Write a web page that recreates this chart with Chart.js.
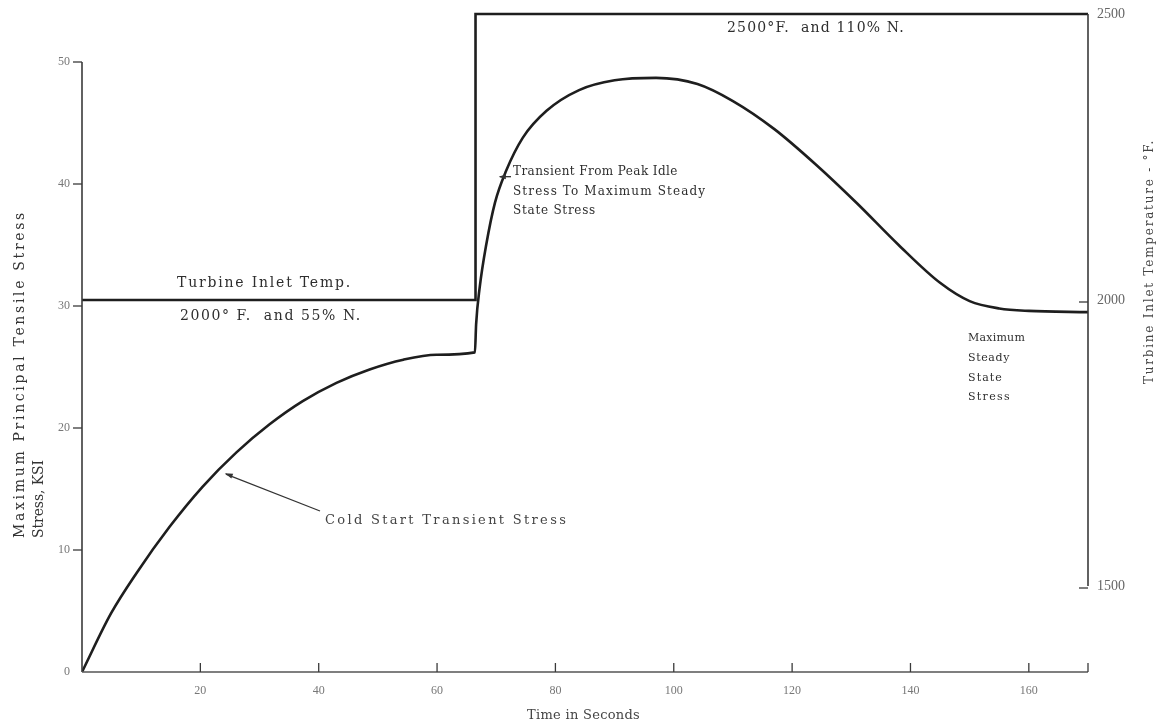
<!DOCTYPE html>
<html><head><meta charset="utf-8">
<script src="https://cdn.jsdelivr.net/npm/chart.js@4/dist/chart.umd.min.js"></script>
<style>html,body{margin:0;padding:0;background:#fff}#wrap{width:1170px;height:726px}</style>
</head><body><div id="wrap"><canvas id="c" width="1170" height="726"></canvas></div>
<script>
// ---- data ----
const stressTime = [0, 4.9, 9.2, 14.8, 20.4, 26.1, 31.7, 37.3, 43.0, 48.6, 54.3, 59.9, 66.4, 66.6, 67.2, 68.3, 69.8, 71.6, 74.5, 78.5, 84, 90, 97, 104, 110, 117, 124, 131, 138, 145, 150, 155, 160, 170];
const stressKsi  = [0, 4.8, 8.1, 11.9, 15.2, 18.0, 20.3, 22.2, 23.7, 24.8, 25.6, 26.0, 26.2, 28.5, 31.5, 35.0, 38.5, 41.0, 43.8, 46.0, 47.7, 48.5, 48.7, 48.2, 46.8, 44.5, 41.6, 38.4, 35.0, 31.9, 30.4, 29.8, 29.6, 29.5];
const tempTime = [0, 66.5, 66.5, 170];
const tempF    = [2000, 2000, 2500, 2500];
const xTickValues = [20, 40, 60, 80, 100, 120, 140, 160];
const stressTickValues = [0, 10, 20, 30, 40, 50];
const tempTickValues = [1500, 2000, 2500];

const SERIF = "'DejaVu Serif', 'Liberation Serif', serif";
const TICKFONT = "'Liberation Serif', 'DejaVu Serif', serif";

function fitText(ctx, str, x, y, w, size, color, weight) {
  ctx.font = (weight || '') + ' ' + size + 'px ' + SERIF;
  ctx.letterSpacing = '0px';
  const m = ctx.measureText(str).width;
  const ls = Math.max(-0.2, (w - m) / str.length);
  ctx.letterSpacing = ls.toFixed(2) + 'px';
  ctx.fillStyle = color;
  ctx.textAlign = 'left';
  ctx.textBaseline = 'middle';
  ctx.fillText(str, x, y);
  ctx.letterSpacing = '0px';
}
function seg(ctx, x1, y1, x2, y2) { ctx.beginPath(); ctx.moveTo(x1, y1); ctx.lineTo(x2, y2); ctx.stroke(); }
function arrowHead(ctx, fromX, fromY, tipX, tipY, len, wid) {
  const a = Math.atan2(tipY - fromY, tipX - fromX);
  ctx.beginPath();
  ctx.moveTo(tipX, tipY);
  ctx.lineTo(tipX - len * Math.cos(a) + wid * Math.sin(a), tipY - len * Math.sin(a) - wid * Math.cos(a));
  ctx.lineTo(tipX - len * Math.cos(a) - wid * Math.sin(a), tipY - len * Math.sin(a) + wid * Math.cos(a));
  ctx.closePath(); ctx.fill();
}

const decor = {
  id: 'decor',
  afterDatasetsDraw(chart) {
    const { ctx } = chart;
    const { x, y, y2 } = chart.scales;
    ctx.save();
    ctx.strokeStyle = '#3a3a3a';
    ctx.lineWidth = 1.6;
    const lx = x.getPixelForValue(0), rx = x.getPixelForValue(170), by = y.getPixelForValue(0);
    // axis lines
    seg(ctx, lx, by, lx, y.getPixelForValue(50));
    ctx.strokeStyle = '#555';
    seg(ctx, lx, by, rx, by);
    ctx.strokeStyle = '#3a3a3a';
    seg(ctx, rx, y2.getPixelForValue(1500), rx, y2.getPixelForValue(2500));
    // tick marks
    ctx.lineWidth = 1.3;
    stressTickValues.forEach(v => { if (v > 0) { const p = y.getPixelForValue(v); seg(ctx, lx - 9, p, lx, p); } });
    xTickValues.concat([170]).forEach(v => { const p = x.getPixelForValue(v); seg(ctx, p, by, p, by - 9); });
    [1500, 2000].forEach(v => { const p = y2.getPixelForValue(v); seg(ctx, rx - 9, p + 2, rx, p + 2); });

    // annotations
    const tc = '#2e2e2e';
    fitText(ctx, 'Turbine Inlet Temp.', 177, 283, 175, 14, tc);
    fitText(ctx, '2000\u00B0 F.  and 55% N.', 180, 316, 182, 14, tc);
    fitText(ctx, '2500\u00B0F.  and 110% N.', 727, 28, 178, 14, tc);
    fitText(ctx, 'Transient From Peak Idle', 513, 172, 165, 12, tc);
    fitText(ctx, 'Stress To Maximum Steady', 513, 192, 193, 12, tc);
    fitText(ctx, 'State Stress', 513, 211, 83, 12, tc);
    fitText(ctx, 'Cold Start Transient Stress', 325, 521, 243, 13, '#444');
    fitText(ctx, 'Maximum', 968, 338, 57, 11, tc);
    fitText(ctx, 'Steady', 968, 358, 42, 11, tc);
    fitText(ctx, 'State', 968, 378, 35, 11, tc);
    fitText(ctx, 'Stress', 968, 397, 43, 11, tc);
    fitText(ctx, 'Time in Seconds', 527, 716, 113, 13, '#444');

    // arrows
    ctx.strokeStyle = '#333'; ctx.fillStyle = '#333'; ctx.lineWidth = 1.3;
    const cx = x.getPixelForValue(23.8), cy = y.getPixelForValue(16.3);
    seg(ctx, 320, 511, cx + 3, cy + 1);
    arrowHead(ctx, 320, 511, cx + 2, cy, 8, 2.5);
    const tx = x.getPixelForValue(70.1), ty = y.getPixelForValue(40.6);
    seg(ctx, 511, ty, tx + 3, ty);
    arrowHead(ctx, 511, ty, tx + 2, ty, 7, 2.5);

    // rotated axis titles
    ctx.save();
    ctx.translate(20, 538); ctx.rotate(-Math.PI / 2);
    fitText(ctx, 'Maximum Principal Tensile Stress', 0, 0, 328, 14, '#333');
    ctx.restore();
    ctx.save();
    ctx.translate(39, 538); ctx.rotate(-Math.PI / 2);
    fitText(ctx, 'Stress, KSI', 0, 0, 78, 14, '#333');
    ctx.restore();
    ctx.save();
    ctx.translate(1150, 384); ctx.rotate(-Math.PI / 2);
    fitText(ctx, 'Turbine Inlet Temperature - \u00B0F.', 0, 0, 245, 12, '#444');
    ctx.restore();
    ctx.restore();
  }
};

const toXY = (xs, ys) => xs.map((v, i) => ({ x: v, y: ys[i] }));
const setTicks = vals => scale => { scale.ticks = vals.map(v => ({ value: v })); };
const noPad = s => { s.paddingTop = 0; s.paddingBottom = 0; s.paddingLeft = 0; s.paddingRight = 0; };

new Chart(document.getElementById('c'), {
  type: 'line',
  data: {
    datasets: [
      { label: 'Stress', data: toXY(stressTime, stressKsi), yAxisID: 'y', borderColor: '#1e1e1e', borderWidth: 2.6, pointRadius: 0, cubicInterpolationMode: 'monotone', fill: false },
      { label: 'Turbine Inlet Temp', data: toXY(tempTime, tempF), yAxisID: 'y2', borderColor: '#1e1e1e', borderWidth: 2.6, pointRadius: 0, tension: 0, fill: false }
    ]
  },
  options: {
    responsive: false, animation: false, devicePixelRatio: 1,
    layout: { padding: { top: 8, left: 0, right: 0, bottom: 0 } },
    plugins: { legend: { display: false }, tooltip: { enabled: false } },
    scales: {
      x: {
        type: 'linear', min: 0, max: 170,
        afterBuildTicks: setTicks(xTickValues),
        afterFit: s => { noPad(s); s.height = 54; },
        grid: { display: false, drawTicks: false }, border: { display: false },
        ticks: { autoSkip: false, maxRotation: 0, padding: 12, color: '#777', font: { family: TICKFONT, size: 12 } }
      },
      y: {
        type: 'linear', position: 'left', min: 0, max: 664 / 12.2,
        afterBuildTicks: setTicks(stressTickValues),
        afterFit: s => { noPad(s); s.width = 82; },
        grid: { display: false, drawTicks: false }, border: { display: false },
        ticks: { padding: 12, color: '#777', font: { family: TICKFONT, size: 12 } }
      },
      y2: {
        type: 'linear', position: 'right', min: 2000 - 372 / 0.572, max: 2500 + 6 / 0.572,
        afterBuildTicks: setTicks(tempTickValues),
        afterFit: s => { noPad(s); s.width = 82; },
        grid: { display: false, drawTicks: false }, border: { display: false },
        ticks: { padding: 9, color: '#666', font: { family: TICKFONT, size: 14 }, callback: v => String(v) }
      }
    }
  },
  plugins: [decor]
});
</script></body></html>
